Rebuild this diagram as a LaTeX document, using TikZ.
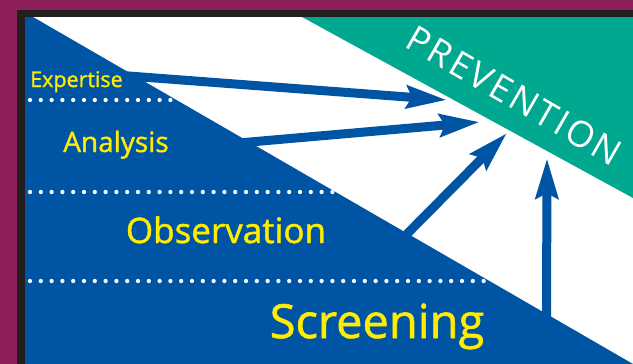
\documentclass[tikz,border=0pt]{standalone}
\usepackage{fontspec}
\setmainfont{Open Sans}[BoldFont={Open Sans}, BoldFeatures={FakeBold=1.3}]
\newfontfamily\widefont[LetterSpace=7]{Open Sans}
\usetikzlibrary{arrows.meta}
\definecolor{plum}{HTML}{8E1F5B}
\definecolor{rim}{HTML}{231F20}
\definecolor{deepblue}{HTML}{0054A4}
\definecolor{sea}{HTML}{00A88F}
\definecolor{lemon}{HTML}{FFEC00}

\begin{document}
\begin{tikzpicture}[x=1pt,y=-1pt,
  level/.style={text=lemon, inner sep=0pt, anchor=base},
  dots/.style={white, line width=4.3pt, line cap=round, dash pattern=on 0pt off 10.8pt},
  push/.style={deepblue, line width=9pt, -{Stealth[length=40pt,width=22pt,inset=5pt]}}]

% define the frame and the two fields
  \fill[plum] (0,0) rectangle (633,364);
  \fill[rim] (17,10) rectangle (633,364);
  \fill[white] (25,17) rectangle (633,364);
  \fill[sea] (302,17) -- (633,17) -- (633,198) -- cycle;
  \fill[deepblue] (25,17) -- (33,17) -- (633,364) -- (25,364) -- cycle;

% dotted separators, kept inside the blue field
  \begin{scope}
    \clip (25,17) -- (33,17) -- (633,364) -- (25,364) -- cycle;
    \foreach \y in {100,192,281}
      \draw[dots] (30,\y) -- (633,\y);
  \end{scope}

% define the ends of the arrows
  \coordinate (e1) at (122,75.5);
  \coordinate (e2) at (235,143.3);
  \coordinate (e3) at (400,241);
  \coordinate (e4) at (546.5,325);
  \coordinate (t1) at (447,100);
  \coordinate (t2) at (480,122);
  \coordinate (t3) at (507,133);
  \coordinate (t4) at (547,158);

% define the links
  \draw[push] (e1) -- (t1);
  \draw[push] (e2) -- (t2);
  \draw[push] (e3) -- (t3);
  \draw[push] (e4) -- (t4);

% define the labels
  \node[level, anchor=base west, font=\bfseries\fontsize{21.5}{26}\selectfont] (exp) at (30,87) {Expertise};
  \node[level, font=\bfseries\fontsize{28}{32}\selectfont] (ana) at (116,152) {Analysis};
  \node[level, font=\bfseries\fontsize{35}{40}\selectfont] (obs) at (226,243) {Observation};
  \node[level, font=\bfseries\fontsize{47}{52}\selectfont] (scr) at (377,338) {Screening};
  \node[text=white, inner sep=0pt, anchor=base, rotate=-30,
        font=\widefont\fontsize{36}{40}\selectfont] (prev) at (508,107) {PREVENTION};

\end{tikzpicture}
\end{document}
